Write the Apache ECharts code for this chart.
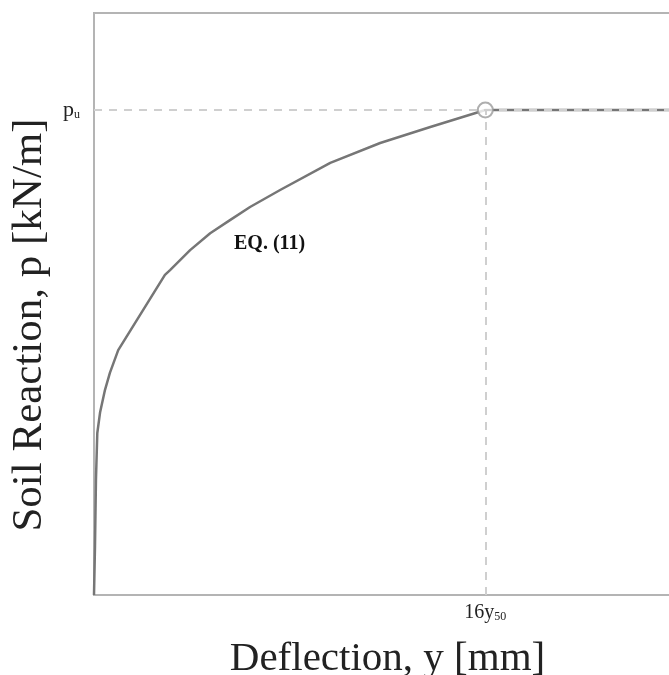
<!DOCTYPE html>
<html>
<head>
<meta charset="utf-8">
<script src="https://cdn.jsdelivr.net/npm/echarts@6/dist/echarts.min.js"></script>
<style>
  html, body { margin: 0; padding: 0; background: #fff; }
  #chart { width: 669px; height: 675px; }
</style>
</head>
<body>
<div id="chart"></div>
<script>
// deflection in units of y50, reaction as fraction of pu
const deflection = [0, 0.04, 0.08, 0.135, 0.25, 0.45, 0.65, 0.99, 2.9, 3.11, 3.93, 4.75, 5.56, 6.38, 7.61, 9.66, 11.7, 13.75, 16, 24];
const reaction = [0, 0.099, 0.237, 0.334, 0.377, 0.423, 0.458, 0.505, 0.66, 0.67, 0.711, 0.746, 0.773, 0.8, 0.835, 0.891, 0.932, 0.965, 1, 1];
const ultimatePoint = [16, 1];
const xTickLabels = { 16: '{n|16y}{s|50}' };
const yTickLabels = { 1: '{n|p}{s|u}' };

const serif = '"Liberation Serif", "DejaVu Serif", serif';
const axisGray = '#b4b4b4';
const dashGray = '#cfcfcf';

const chart = echarts.init(document.getElementById('chart'), null, { renderer: 'canvas' });

chart.setOption({
  animation: false,
  backgroundColor: '#fff',
  grid: {
    left: 94, top: 13, width: 587, height: 582,
    containLabel: false, outerBoundsMode: 'none',
    show: true, borderColor: axisGray, borderWidth: 2
  },
  xAxis: {
    type: 'value', min: 0, max: 24, interval: 16,
    name: 'Deflection, y [mm]', nameLocation: 'middle', nameGap: 44,
    nameTextStyle: { fontFamily: serif, fontSize: 41, color: '#222' },
    axisLine: { show: true, lineStyle: { color: axisGray, width: 2 } },
    axisTick: { show: false },
    splitLine: { show: false },
    axisLabel: {
      margin: 8,
      formatter: v => xTickLabels[v] || '',
      rich: {
        n: { fontFamily: serif, fontSize: 20, color: '#222' },
        s: { fontFamily: serif, fontSize: 12, color: '#222', verticalAlign: 'bottom', padding: [8, 0, 0, 0] }
      }
    }
  },
  yAxis: {
    type: 'value', min: 0, max: 1.2, interval: 1,
    name: 'Soil Reaction, p [kN/m]', nameLocation: 'middle', nameGap: 43,
    nameTextStyle: { fontFamily: serif, fontSize: 43, color: '#222', padding: [0, 42, 0, 0] },
    axisLine: { show: true, lineStyle: { color: axisGray, width: 2 } },
    axisTick: { show: false },
    splitLine: { show: false },
    axisLabel: {
      margin: 14,
      formatter: v => yTickLabels[v] || '',
      rich: {
        n: { fontFamily: serif, fontSize: 22, color: '#222' },
        s: { fontFamily: serif, fontSize: 12, color: '#222', verticalAlign: 'bottom', padding: [10, 0, 0, 0] }
      }
    }
  },
  series: [
    {
      type: 'line',
      data: deflection.map((x, i) => [x, reaction[i]]),
      showSymbol: false,
      lineStyle: { color: '#767676', width: 2.5, join: 'round' },
      markLine: {
        silent: true,
        symbol: 'none',
        label: { show: false },
        lineStyle: { color: dashGray, width: 2, type: [8, 7] },
        data: [
          [{ coord: [0, 1] }, { coord: [24, 1] }],
          [{ coord: [16, 0] }, { coord: ultimatePoint }]
        ]
      },
      z: 3
    },
    {
      type: 'scatter',
      data: [ultimatePoint],
      symbol: 'circle',
      symbolSize: 15,
      itemStyle: { color: '#fff', borderColor: '#9a9a9a', borderWidth: 2 },
      z: 4
    }
  ],
  graphic: [
    {
      type: 'text', left: 234, top: 234,
      style: { text: 'EQ. (11)', font: 'bold 20px ' + serif, fill: '#111' }
    }
  ]
});
</script>
</body>
</html>
